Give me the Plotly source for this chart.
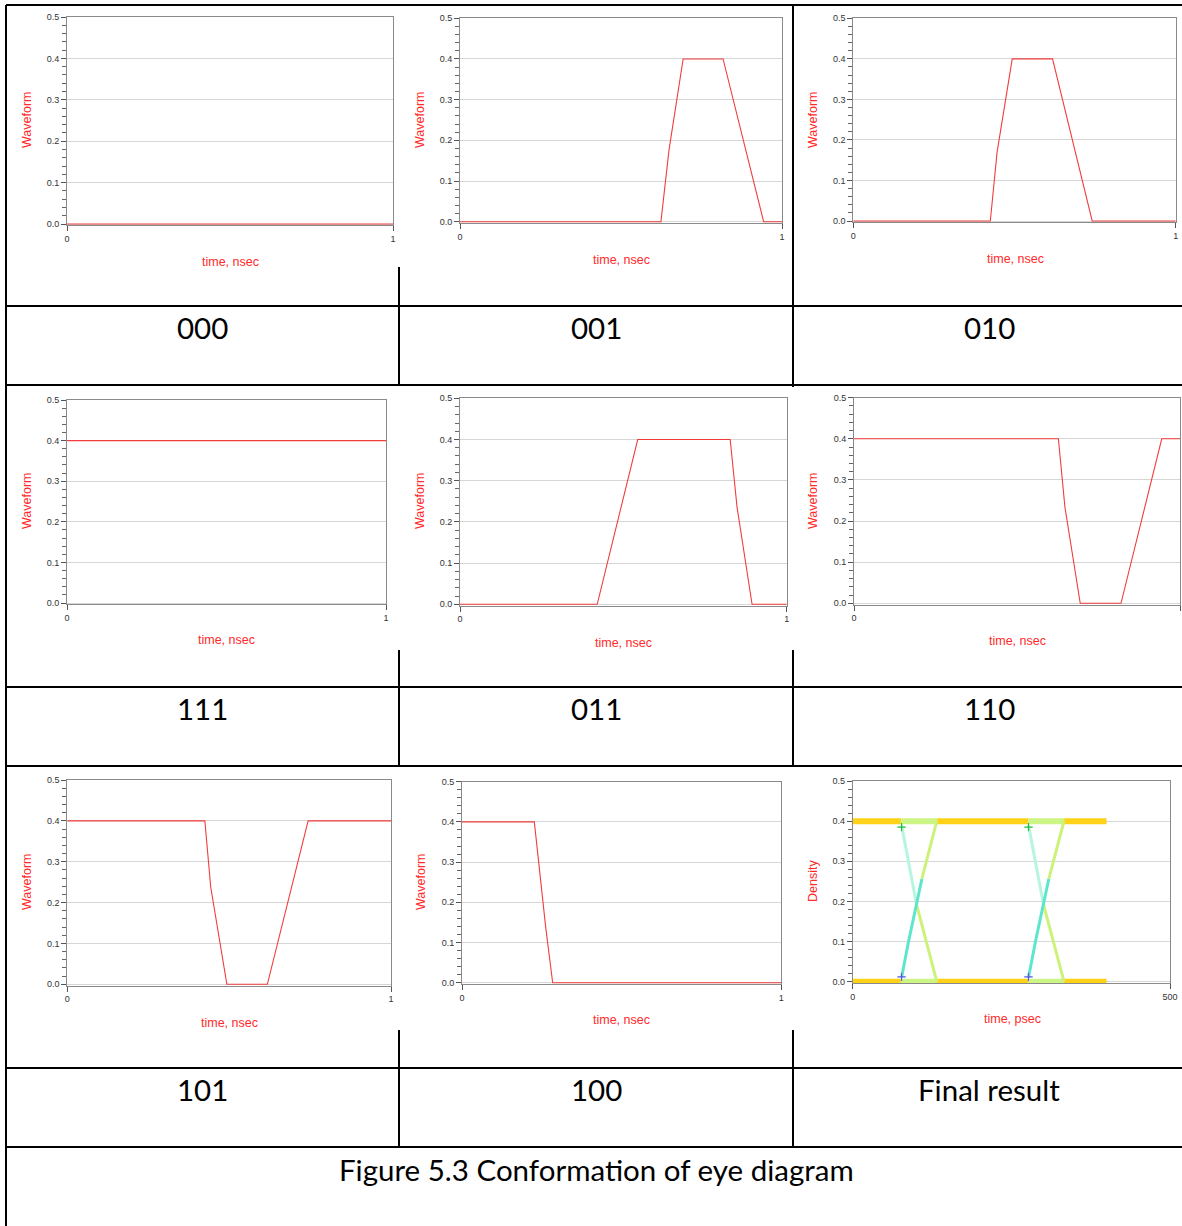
import plotly.graph_objects as go

W, H = 1182, 1226

# ---------------- data ----------------
panel_names = ["000", "001", "010", "111", "011", "110", "101", "100", "Final result"]

t_000 = [0, 1]
v_000 = [0, 0]
t_001 = [0, 0.624, 0.649, 0.693, 0.817, 0.943, 1]
v_001 = [0, 0, 0.176, 0.4, 0.4, 0, 0]
t_010 = [0, 0.425, 0.446, 0.493, 0.618, 0.741, 1]
v_010 = [0, 0, 0.170, 0.4, 0.4, 0, 0]
t_111 = [0, 1]
v_111 = [0.4, 0.4]
t_011 = [0, 0.420, 0.544, 0.827, 0.848, 0.894, 1]
v_011 = [0, 0, 0.4, 0.4, 0.236, 0, 0]
t_110 = [0, 0.627, 0.647, 0.694, 0.819, 0.944, 1]
v_110 = [0.4, 0.4, 0.234, 0, 0, 0.4, 0.4]
t_101 = [0, 0.425, 0.443, 0.493, 0.618, 0.744, 1]
v_101 = [0.4, 0.4, 0.238, 0, 0, 0.4, 0.4]
t_100 = [0, 0.2265, 0.262, 0.284, 1]
v_100 = [0.4, 0.4, 0.139, 0, 0]

# eye diagram (psec, V)
eye_levels = [0.0, 0.4]
eye_yellow_t = [[0, 76], [133, 277], [333, 400]]
eye_green_t = [[76, 133], [277, 333]]
eye1_rise_lo_t = [77, 88, 109]
eye1_rise_lo_v = [0.01, 0.10, 0.256]
eye1_rise_hi_t = [109, 132.5]
eye1_rise_hi_v = [0.256, 0.4]
eye1_fall_hi_t = [77, 88, 101]
eye1_fall_hi_v = [0.39, 0.30, 0.19]
eye1_fall_lo_t = [101, 132.5]
eye1_fall_lo_v = [0.19, 0.0]
eye2_rise_lo_t = [277, 288, 309]
eye2_rise_lo_v = [0.01, 0.10, 0.256]
eye2_rise_hi_t = [309, 333]
eye2_rise_hi_v = [0.256, 0.4]
eye2_fall_hi_t = [277, 288, 301]
eye2_fall_hi_v = [0.39, 0.30, 0.19]
eye2_fall_lo_t = [301, 333]
eye2_fall_lo_v = [0.19, 0.0]
eye_start_t = [77, 77, 277, 277]
eye_start_v = [0.012, 0.385, 0.012, 0.385]

series = [(t_000, v_000), (t_001, v_001), (t_010, v_010),
          (t_111, v_111), (t_011, v_011), (t_110, v_110),
          (t_101, v_101), (t_100, v_100), None]

# plot-area pixel boxes (x0, x1, ytop, ybottom)
boxes = [
    (67, 393, 17, 224), (460, 782, 18.3, 221.7), (853.3, 1175.7, 18.3, 221),
    (67, 386, 400, 603), (460, 786.7, 398.3, 604.3), (854, 1180, 397.7, 603.3),
    (67.3, 391, 780, 984.3), (462, 781.3, 781.7, 982.7), (852.7, 1170, 781, 981.7),
]
ytitle_pos = [(27, 120), (420, 120), (813, 120), (27, 501), (420, 501), (813, 501),
              (27, 882), (421, 882), (813, 881)]
xtitle_pos = [(230, 262), (621, 260), (1015, 259), (226, 640), (623, 643), (1017, 641),
              (229, 1023), (622, 1020), (1012, 1019)]
label_pos = [(202, 327), (596, 327), (989, 327), (202, 708), (596, 708), (989, 708),
             (202, 1089), (596, 1089), (989, 1089)]

def px(x):
    return x / W

def py(y):
    return 1 - y / H

RED = "#f23c3c"
fig = go.Figure()
layout = dict(template="none", autosize=False,
              width=W, height=H, margin=dict(l=0, r=0, t=0, b=0, pad=0),
              paper_bgcolor="white", plot_bgcolor="white", showlegend=False)
annotations = []
shapes = []

# table lines
BL = dict(color="black", width=2)
for y in [5, 306, 385, 687, 766, 1068, 1147]:
    shapes.append(dict(type="line", xref="paper", yref="paper", x0=px(6), x1=1.0,
                       y0=py(y), y1=py(y), line=BL, layer="below"))
vsegs = [(6, 5, 1226), (399, 267, 385), (399, 650, 766), (399, 1030, 1147),
         (793, 5, 387), (793, 650, 766), (793, 1030, 1147)]
for x, y0, y1 in vsegs:
    shapes.append(dict(type="line", xref="paper", yref="paper", x0=px(x), x1=px(x),
                       y0=py(y0), y1=py(y1), line=BL, layer="below"))

tickfont = dict(family="Liberation Sans, Arial, sans-serif", size=9, color="#333")
titlefont = dict(family="Liberation Sans, Arial, sans-serif", size=12.5, color="#ff2a2a")

for i in range(9):
    n = "" if i == 0 else str(i + 1)
    x0, x1, yt, yb = boxes[i]
    final = (i == 8)
    hpx = yb - yt
    ext = 0.5 / hpx * 1.2  # extend 1.2px below zero so the zero trace stays visible
    layout["xaxis" + n] = dict(
        domain=[px(x0), px(x1)], anchor="y" + n, automargin=False,
        range=[0, 500] if final else [0, 1],
        tickvals=[0, 500] if final else [0, 1],
        ticks="outside", ticklen=5, tickcolor="#555", tickfont=tickfont,
        showgrid=False, zeroline=False, showline=True, mirror=True,
        linecolor="#8a8a8a", linewidth=1, fixedrange=True)
    layout["yaxis" + n] = dict(
        domain=[py(yb + 1.2), py(yt)], anchor="x" + n, automargin=False, range=[-ext, 0.5],
        tickvals=[0, 0.1, 0.2, 0.3, 0.4, 0.5], tickformat=".1f",
        ticks="outside", ticklen=5, tickcolor="#555", tickfont=tickfont,
        minor=dict(tickvals=[0.02, 0.04, 0.06, 0.08, 0.12, 0.14, 0.16, 0.18,
                             0.22, 0.24, 0.26, 0.28, 0.32, 0.34, 0.36, 0.38,
                             0.42, 0.44, 0.46, 0.48],
                   ticks="outside", ticklen=4, tickcolor="#666", showgrid=False),
        showgrid=True, gridcolor="#d6d6d6", gridwidth=1, zeroline=False,
        showline=True, mirror=True, linecolor="#8a8a8a", linewidth=1, fixedrange=True)
    xa, ya = "x" + n, "y" + n
    if not final:
        t, v = series[i]
        fig.add_trace(go.Scatter(x=t, y=v, mode="lines", xaxis=xa, yaxis=ya,
                                 line=dict(color=RED, width=1.1), hoverinfo="skip"))
    else:
        for lv in eye_levels:
            for seg in eye_yellow_t:
                fig.add_trace(go.Scatter(x=seg, y=[lv, lv], mode="lines", xaxis=xa, yaxis=ya,
                                         line=dict(color="#FFD21A", width=6), hoverinfo="skip"))
            for seg in eye_green_t:
                fig.add_trace(go.Scatter(x=seg, y=[lv, lv], mode="lines", xaxis=xa, yaxis=ya,
                                         line=dict(color="#cdf585", width=6), hoverinfo="skip"))
        edge_specs = [
            (eye1_fall_hi_t, eye1_fall_hi_v, "#b8f5e0"),
            (eye1_fall_lo_t, eye1_fall_lo_v, "#cdf27a"),
            (eye1_rise_hi_t, eye1_rise_hi_v, "#cdf27a"),
            (eye1_rise_lo_t, eye1_rise_lo_v, "#5ee6cc"),
            (eye2_fall_hi_t, eye2_fall_hi_v, "#b8f5e0"),
            (eye2_fall_lo_t, eye2_fall_lo_v, "#cdf27a"),
            (eye2_rise_hi_t, eye2_rise_hi_v, "#cdf27a"),
            (eye2_rise_lo_t, eye2_rise_lo_v, "#5ee6cc"),
        ]
        for et, ev, col in edge_specs:
            fig.add_trace(go.Scatter(x=et, y=ev, mode="lines", xaxis=xa, yaxis=ya,
                                     line=dict(color=col, width=3), hoverinfo="skip"))
        fig.add_trace(go.Scatter(x=eye_start_t, y=eye_start_v, mode="markers", xaxis=xa, yaxis=ya,
                                 marker=dict(symbol="cross-thin", size=6,
                                             line=dict(width=1.2, color=["#5a5ae6", "#1fbf3a",
                                                                         "#5a5ae6", "#1fbf3a"])),
                                 hoverinfo="skip"))

    yx, yy = ytitle_pos[i]
    annotations.append(dict(text="Density" if final else "Waveform", x=px(yx), y=py(yy),
                            xref="paper", yref="paper", showarrow=False, textangle=-90,
                            font=titlefont, xanchor="center", yanchor="middle"))
    tx, ty = xtitle_pos[i]
    annotations.append(dict(text="time, psec" if final else "time, nsec", x=px(tx), y=py(ty),
                            xref="paper", yref="paper", showarrow=False,
                            font=titlefont, xanchor="center", yanchor="middle"))
    lx, ly = label_pos[i]
    annotations.append(dict(text=panel_names[i], x=px(lx), y=py(ly), xref="paper", yref="paper",
                            showarrow=False, xanchor="center", yanchor="middle",
                            font=dict(family="Lato, Carlito, sans-serif", size=29.5, color="black")))

annotations.append(dict(text="Figure 5.3 Conformation of eye diagram", x=px(596), y=py(1169),
                        xref="paper", yref="paper", showarrow=False, xanchor="center",
                        yanchor="middle",
                        font=dict(family="Lato, Carlito, sans-serif", size=29.5, color="black")))

layout["annotations"] = annotations
layout["shapes"] = shapes
fig.update_layout(**layout)
fig.write_html("out.html")
